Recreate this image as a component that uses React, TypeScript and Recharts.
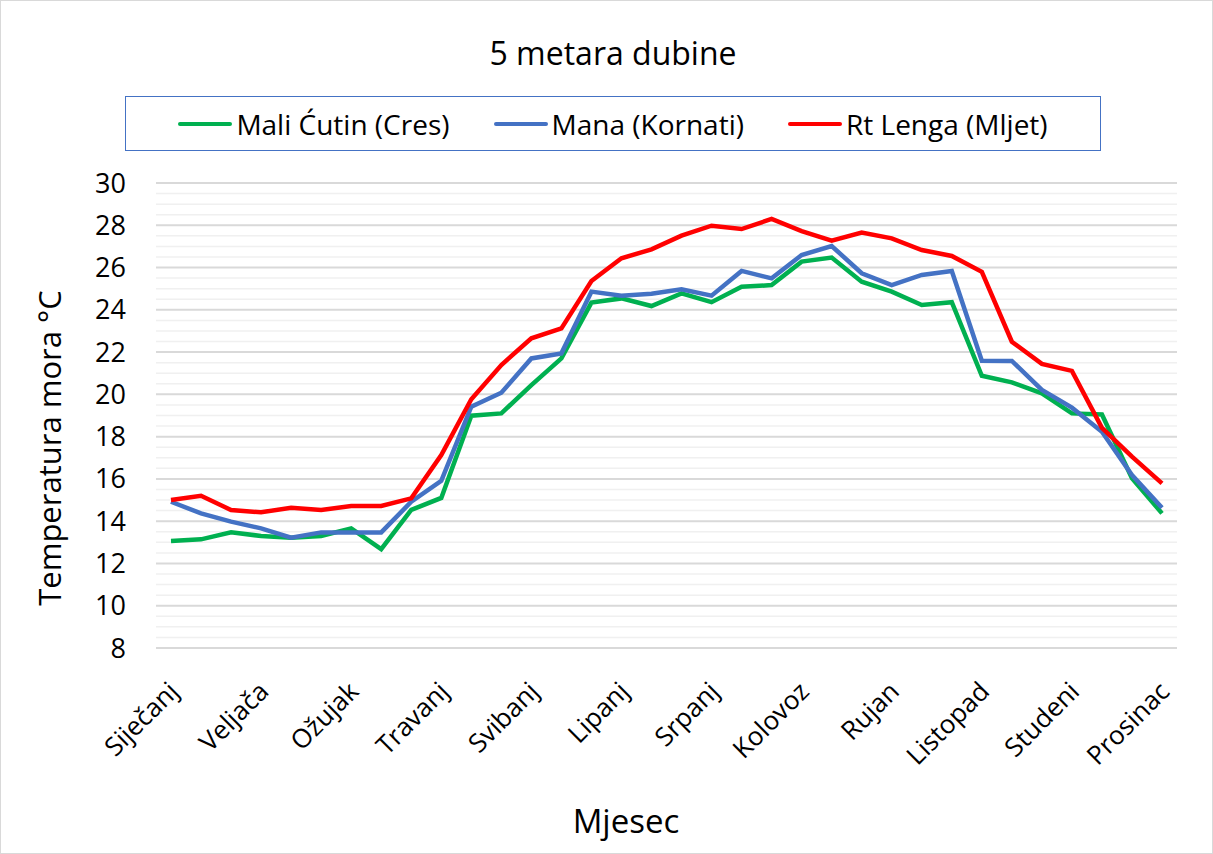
import { CartesianGrid, Line, LineChart, ReferenceLine, XAxis, YAxis } from "recharts";

const months = ["Siječanj", "Veljača", "Ožujak", "Travanj", "Svibanj", "Lipanj", "Srpanj", "Kolovoz", "Rujan", "Listopad", "Studeni", "Prosinac"];

// 34 mjerenja, naziv mjeseca na svakom trećem
const categories = Array.from({ length: 34 }, (_, i) => (i % 3 === 0 ? months[i / 3] : ""));

const maliCutin = [13.06, 13.14, 13.47, 13.3, 13.22, 13.3, 13.66, 12.68, 14.53, 15.1, 18.99, 19.1, 20.44, 21.7, 24.34, 24.54, 24.18, 24.78, 24.36, 25.09, 25.17, 26.28, 26.47, 25.33, 24.86, 24.23, 24.36, 20.88, 20.57, 20.05, 19.1, 19.05, 16.03, 14.37];
const mana = [14.92, 14.37, 13.98, 13.66, 13.22, 13.47, 13.47, 13.47, 14.92, 15.91, 19.42, 20.08, 21.7, 21.94, 24.86, 24.67, 24.76, 24.97, 24.67, 25.84, 25.49, 26.59, 27.02, 25.73, 25.17, 25.65, 25.84, 21.59, 21.58, 20.21, 19.37, 18.23, 16.18, 14.64];
const rtLenga = [15.0, 15.2, 14.53, 14.42, 14.64, 14.53, 14.72, 14.72, 15.08, 17.13, 19.77, 21.39, 22.65, 23.12, 25.36, 26.44, 26.86, 27.51, 27.98, 27.82, 28.3, 27.72, 27.27, 27.66, 27.38, 26.83, 26.55, 25.8, 22.49, 21.44, 21.11, 18.42, 17.05, 15.79];

const yTicks = [8, 10, 12, 14, 16, 18, 20, 22, 24, 26, 28, 30];
const minorTicks = Array.from({ length: 45 }, (_, i) => 8 + i * 0.5);

const series = [
  { key: "cres", name: "Mali Ćutin (Cres)", color: "#00B050" },
  { key: "kornati", name: "Mana (Kornati)", color: "#4472C4" },
  { key: "mljet", name: "Rt Lenga (Mljet)", color: "#FF0000" },
];

const data = categories.map((label, i) => ({
  label,
  cres: maliCutin[i],
  kornati: mana[i],
  mljet: rtLenga[i],
}));

const FONT = "'Open Sans', 'Liberation Sans', sans-serif";

function MonthTick({ x, y, payload }: any) {
  if (!payload.value) return null;
  const ax = x + 2;
  const ay = y + 38;
  return (
    <text
      x={ax}
      y={ay}
      transform={`rotate(-45, ${ax}, ${ay})`}
      textAnchor="end"
      dominantBaseline="central"
      fontSize={26}
      fontFamily={FONT}
      fill="#000"
    >
      {payload.value}
    </text>
  );
}

export default function App() {
  return (
    <div
      style={{
        position: "absolute",
        left: 0,
        top: 0,
        width: 1213,
        height: 854,
        background: "#fff",
        border: "1px solid #D9D9D9",
        boxSizing: "border-box",
        fontFamily: FONT,
      }}
    >
      <div style={{ position: "absolute", left: 0, top: 30, width: 1224, textAlign: "center", fontSize: 32, lineHeight: "44px" }}>
        5 metara dubine
      </div>
      <div
        style={{
          position: "absolute",
          left: 124,
          top: 95,
          width: 976,
          height: 55,
          border: "1px solid #4472C4",
          boxSizing: "border-box",
          display: "flex",
          alignItems: "center",
          justifyContent: "center",
          gap: 44,
          fontSize: 28,
        }}
      >
        {series.map((s) => (
          <div key={s.key} style={{ display: "flex", alignItems: "center" }}>
            <span style={{ display: "inline-block", width: 54, height: 4, background: s.color, borderRadius: 2, marginRight: 4 }} />
            <span>{s.name}</span>
          </div>
        ))}
      </div>
      <div
        style={{
          position: "absolute",
          left: 48,
          top: 447,
          transform: "translate(-50%, -50%) rotate(-90deg)",
          whiteSpace: "nowrap",
          fontSize: 31,
        }}
      >
        Temperatura mora °C
      </div>
      <div style={{ position: "absolute", left: 0, top: 798, width: 1250, textAlign: "center", fontSize: 33, lineHeight: "44px" }}>
        Mjesec
      </div>
      <div style={{ position: "absolute", left: -1, top: -1 }}>
        <LineChart width={1213} height={854} data={data} margin={{ top: 183, right: 36, bottom: 0, left: 0 }}>
          <CartesianGrid horizontal={false} vertical={false} />
          {minorTicks.map((v) => (
            <ReferenceLine
              key={v}
              y={v}
              stroke={v % 2 === 0 ? "#D9D9D9" : "#F0F0F0"}
              strokeWidth={v % 2 === 0 ? 2 : 1.5}
            />
          ))}
          <XAxis
            dataKey="label"
            interval={0}
            tick={<MonthTick />}
            tickLine={false}
            axisLine={false}
            tickSize={0}
            tickMargin={0}
            height={206}
            padding={{ left: 15, right: 15 }}
          />
          <YAxis
            type="number"
            domain={[8, 30]}
            ticks={yTicks}
            interval={0}
            width={156}
            tickLine={false}
            axisLine={false}
            tickSize={6}
            tickMargin={24}
            tick={{ fontSize: 27, fill: "#000", fontFamily: FONT }}
          />
          {series.map((s) => (
            <Line
              key={s.key}
              type="linear"
              dataKey={s.key}
              name={s.name}
              stroke={s.color}
              strokeWidth={4.5}
              dot={false}
              activeDot={false}
              isAnimationActive={false}
            />
          ))}
        </LineChart>
      </div>
    </div>
  );
}
